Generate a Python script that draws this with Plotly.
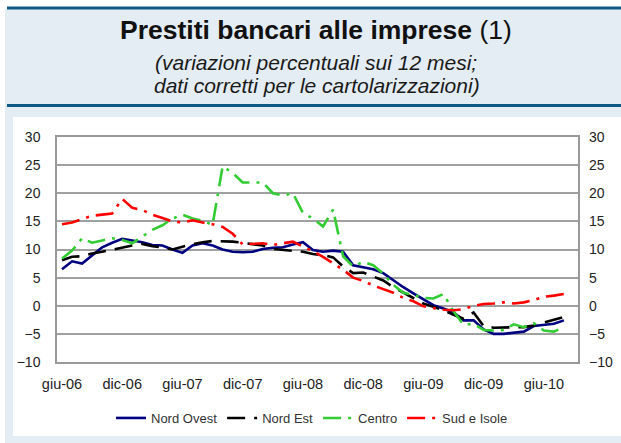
import plotly.graph_objects as go

# mesi da giu-06 a set-10 (asse a categorie, dati mensili)
mesi = ["gen", "feb", "mar", "apr", "mag", "giu", "lug", "ago", "set", "ott", "nov", "dic"]
categorie = [f"{mesi[m % 12]}-{6 + m // 12:02d}" for m in range(5, 5 + 52)]
tick_etichette = ["giu-06", "dic-06", "giu-07", "dic-07", "giu-08", "dic-08", "giu-09", "dic-09", "giu-10"]
y_tick = [-10, -5, 0, 5, 10, 15, 20, 25, 30]

nord_ovest = [6.5, 7.9, 7.5, 9.0, 10.4, 11.2, 11.9, 11.6, 11.3, 10.8, 10.7, 10.0, 9.4,
              10.7, 11.1, 10.7, 10.0, 9.6, 9.5, 9.6, 10.1, 10.3, 10.4, 10.9, 11.3, 9.9,
              9.6, 9.8, 9.6, 7.2, 6.9, 6.5, 5.8, 4.5, 3.3, 2.2, 1.1, 0.1, -0.5, -1.2,
              -2.6, -2.6, -4.2, -5.0, -5.0, -4.8, -4.6, -3.6, -3.4, -3.2, -2.6]
nord_est = [8.1, 8.7, 8.8, 9.3, 9.6, 10.0, 10.3, 10.7, 11.0, 10.6, 10.4, 10.0, 10.5,
            10.9, 11.3, 11.5, 11.5, 11.4, 11.2, 10.9, 10.7, 10.1, 9.9, 9.8, 9.6, 9.2,
            9.0, 8.6, 7.0, 5.8, 5.9, 5.2, 4.5, 3.3, 2.3, 1.3, 0.4, -0.2, -0.8, -1.6,
            -2.3, -1.2, -3.6, -3.9, -3.9, -3.8, -3.8, -3.5, -3.0, -2.5, -2.0]
centro = [8.4, 9.8, 12.0, 11.2, 11.6, 12.0, 11.7, 11.1, 12.3, 13.5, 14.3, 15.5, 16.2,
          15.5, 15.1, 14.4, 24.8, 23.6, 21.9, 21.9, 21.9, 20.0, 19.6, 20.0, 16.5, 15.5,
          14.1, 17.1, 8.8, 7.0, 7.8, 7.2, 5.7, 3.7, 2.3, 1.9, 1.4, 1.3, 2.1, -1.0,
          -3.4, -3.2, -4.3, -4.4, -4.3, -3.3, -3.8, -3.1, -4.4, -4.6, -3.8]
sud_isole = [14.5, 14.8, 15.4, 16.0, 16.2, 16.4, 19.0, 17.4, 17.0, 16.2, 15.6, 15.0, 14.8,
             15.2, 14.8, 14.5, 14.0, 12.8, 10.9, 11.0, 11.1, 10.8, 11.1, 11.4, 10.5, 9.7,
             8.7, 7.5, 6.4, 5.0, 4.4, 3.6, 2.9, 2.3, 1.4, 0.8, -0.1, -0.4, -0.7, -0.8,
             -0.6, 0.0, 0.3, 0.4, 0.6, 0.4, 0.6, 1.0, 1.6, 1.8, 2.1]

serie = [
    ("Nord Ovest", nord_ovest, "#000080", "solid"),
    ("Nord Est", nord_est, "#000000", "18px,9px"),
    ("Centro", centro, "#33CC33", "18px,7px,3px,7px"),
    ("Sud e Isole", sud_isole, "#FF0000", "18px,7px,3px,7px"),
]

W, H = 621, 443
L, R, T, B = 57, 43, 137, 81
pw, ph = W - L - R, H - T - B


def px_x(x):
    return (x - L) / pw


def px_y(y):
    return (H - B - y) / ph


fig = go.Figure()
for nome, valori, colore, tratto in serie:
    fig.add_trace(go.Scatter(x=categorie[:len(valori)], y=valori, name=nome, mode="lines",
                             line=dict(color=colore, width=2.6, dash=tratto)))
# traccia vuota per l'asse di destra
fig.add_trace(go.Scatter(x=[categorie[0]], y=[None], yaxis="y2", showlegend=False,
                         hoverinfo="skip"))

font = "Arial, Liberation Sans, sans-serif"
rett = lambda x0, y0, x1, y1, c: dict(type="rect", xref="paper", yref="paper",
                                        x0=px_x(x0), x1=px_x(x1), y0=px_y(y1), y1=px_y(y0),
                                        fillcolor=c, line_width=0, layer="below")

fig.update_layout(
    width=W, height=H,
    margin=dict(l=L, r=R, t=T, b=B, autoexpand=False),
    paper_bgcolor="white", plot_bgcolor="white",
    font=dict(family=font, color="#222222"),
    showlegend=True,
    legend=dict(orientation="h", x=px_x(312), y=px_y(418), xanchor="center", yanchor="middle",
                font=dict(size=13, color="#333333"), bgcolor="rgba(0,0,0,0)"),
    xaxis=dict(type="category", categoryorder="array", categoryarray=categorie,
               range=[-0.5, 51.4], tickvals=tick_etichette, showgrid=False,
               showline=True, mirror=True, linecolor="#999999", linewidth=1.5,
               ticks="", tickfont=dict(size=14.5, color="#222222"), ticklabelstandoff=8),
    yaxis=dict(range=[-10, 30], tickvals=y_tick, showgrid=True, gridcolor="#A0A0A0",
               gridwidth=1.5, zeroline=False, showline=True, mirror=True,
               linecolor="#999999", linewidth=1.5, ticks="",
               tickfont=dict(size=14, color="#222222"), ticklabelstandoff=12),
    yaxis2=dict(range=[-10, 30], tickvals=y_tick, overlaying="y", side="right",
                showgrid=False, zeroline=False, showline=False, ticks="",
                tickfont=dict(size=14, color="#222222"), ticklabelstandoff=10),
    shapes=[
        rett(5, 9, 621, 443, "#E4ECF4"),
        rett(7, 6.5, 621, 9.5, "#0E5A84"),
        rett(7, 104, 621, 107, "#0E5A84"),
        rett(13, 117, 621, 436, "white"),
    ],
    annotations=[
        dict(text="<b>Prestiti bancari alle imprese</b> (1)", x=px_x(316), y=px_y(30),
             xref="paper", yref="paper", showarrow=False, xanchor="center", yanchor="middle",
             font=dict(size=26.5, color="#111111")),
        dict(text="<i>(variazioni percentuali sui 12 mesi;</i>", x=px_x(316), y=px_y(62),
             xref="paper", yref="paper", showarrow=False, xanchor="center", yanchor="middle",
             font=dict(size=21, color="#1a1a1a")),
        dict(text="<i>dati corretti per le cartolarizzazioni)</i>", x=px_x(317), y=px_y(85),
             xref="paper", yref="paper", showarrow=False, xanchor="center", yanchor="middle",
             font=dict(size=21, color="#1a1a1a")),
    ],
)

# niente margine del body, così la figura parte da (0,0) della finestra
fig.write_html("out.html", config={"displayModeBar": False},
               post_script="document.body.style.margin='0';")
